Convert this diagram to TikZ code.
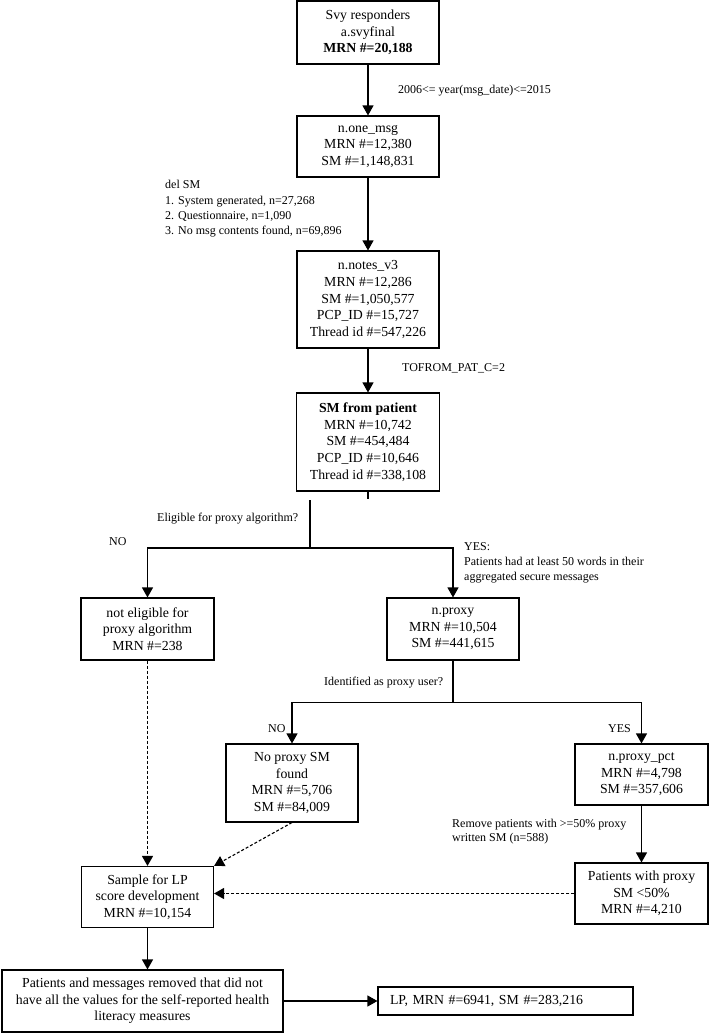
\documentclass[tikz,border=0pt]{standalone}
\usepackage{fontspec}
\setmainfont{Liberation Serif}
\usetikzlibrary{arrows.meta}
\begin{document}
\begin{tikzpicture}[x=1pt,y=-1pt,
  box/.style={draw, line width=1.1pt, inner sep=0pt, align=center, font=\fontsize{13.8}{16.6}\selectfont},
  lbl/.style={inner sep=0pt, anchor=west, align=left, font=\fontsize{12}{15}\selectfont},
  conn/.style={line width=1.1pt},
  arr/.style={line width=1.1pt, -{Triangle[width=11pt,length=10pt]}},
  darr/.style={arr, dash pattern=on 3pt off 2pt}]
\useasboundingbox (0,0) rectangle (709,1033);
% boxes
\node[box, minimum width=142pt, minimum height=63pt] (b1) at (368,32.5) {Svy responders\\a.svyfinal\\\textbf{MRN \#=20,188}};
\node[box, minimum width=142pt, minimum height=61pt] (b2) at (368,146.5) {n.one\_msg\\MRN \#=12,380\\SM \#=1,148,831};
\node[box, minimum width=142pt, minimum height=97pt] (b3) at (368,299.5) {n.notes\_v3\\MRN \#=12,286\\SM \#=1,050,577\\PCP\_ID \#=15,727\\Thread id \#=547,226};
\node[box, minimum width=143pt, minimum height=98pt] (b4) at (368,442) {\textbf{SM from patient}\\MRN \#=10,742\\SM \#=454,484\\PCP\_ID \#=10,646\\Thread id \#=338,108};
\node[box, minimum width=133pt, minimum height=62pt] (bne) at (147.5,629) {not eligible for\\proxy algorithm\\MRN \#=238};
\node[box, minimum width=132pt, minimum height=62pt] (bpx) at (453,629) {n.proxy\\MRN \#=10,504\\SM \#=441,615};
\node[box, minimum width=132pt, minimum height=78pt] (bnp) at (292,783) {No proxy SM\\found\\MRN \#=5,706\\SM \#=84,009};
\node[box, minimum width=133pt, minimum height=61pt] (bpp) at (641.5,774.5) {n.proxy\_pct\\MRN \#=4,798\\SM \#=357,606};
\node[box, minimum width=133pt, minimum height=61pt] (bpw) at (641.5,893.5) {Patients with proxy\\SM <50\%\\MRN \#=4,210};
\node[box, minimum width=132pt, minimum height=61pt] (bs) at (147.5,897) {Sample for LP\\score development\\MRN \#=10,154};
\node[box, minimum width=281pt, minimum height=62pt] (bb) at (142.5,1001) {Patients and messages removed that did not\\have all the values for the self-reported health\\literacy measures};
\node[box, minimum width=255pt, minimum height=28pt, text width=231pt, align=left] (blp) at (505.5,1001) {LP, MRN \#=6941, SM \#=283,216};
% connectors
\draw[arr] (b1) -- (b2);
\draw[arr] (b2) -- (b3);
\draw[arr] (b3) -- (b4);
\draw[conn] (b4.south) -- ++(0,7);
\coordinate (j1) at (310,500);
\coordinate (j2) at (310,548);
\draw[conn] (j1) -- (j2);
\draw[arr] (j2) -| (bne.north);
\draw[arr] (j2) -| (bpx.north);
\draw[conn] (bpx.south) -- ++(0,42) coordinate (j3);
\draw[arr] (j3) -| (bnp.north);
\draw[arr] (j3) -| (bpp.north);
\draw[arr] (bpp) -- (bpw);
\draw[darr] (bne) -- (bs);
\draw[darr] (bnp.south) -- (bs.north east);
\draw[darr] (bpw.west) -- (bpw.west -| bs.east);
\draw[arr] (bs.south) -- (bs.south |- bb.north);
\draw[arr] (bb.east) -- (blp.west);
% labels
\node[lbl] (l1) at (398,91) {2006<= year(msg\_date)<=2015};
\node[lbl, font=\fontsize{12}{15.3}\selectfont] (l2) at (165,209) {del SM\\1. System generated, n=27,268\\2. Questionnaire, n=1,090\\3. No msg contents found, n=69,896};
\node[lbl] (l3) at (402,368) {TOFROM\_PAT\_C=2};
\node[lbl] (l4) at (157,519) {Eligible for proxy algorithm?};
\node[lbl] (l5) at (109,542) {NO};
\node[lbl] (l6) at (464,563) {YES:\\Patients had at least 50 words in their\\aggregated secure messages};
\node[lbl] (l7) at (324,683) {Identified as proxy user?};
\node[lbl] (l8) at (268,729) {NO};
\node[lbl] (l9) at (608,729) {YES};
\node[lbl, font=\fontsize{12}{14}\selectfont] (l10) at (452,832) {Remove patients with >=50\% proxy\\written SM (n=588)};
\end{tikzpicture}
\end{document}
